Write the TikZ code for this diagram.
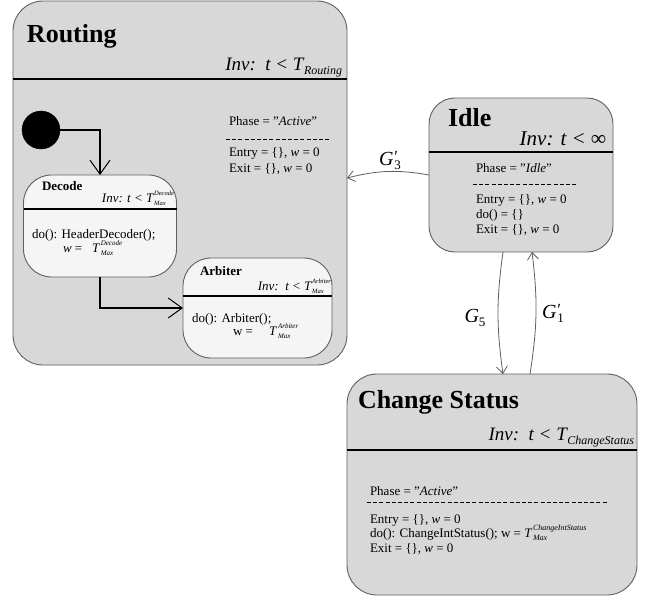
\documentclass[tikz,border=0pt]{standalone}
\usepackage{fontspec}
\setmainfont{Liberation Serif}
\usetikzlibrary{arrows.meta}
\definecolor{boxgray}{RGB}{216,216,216}
\definecolor{subfill}{RGB}{245,245,245}
\definecolor{edgegray}{RGB}{95,95,95}
\newcommand{\fs}[1]{\fontsize{#1}{#1}\selectfont}
\newlength{\stkw}
% #1 size, #2 sup, #3 sub, #4 raise of sup, #5 drop of sub
\newcommand{\stk}[5]{\begingroup\fs{#1}\itshape
 \setbox0=\hbox{\raisebox{#4}{#2}}\setbox2=\hbox{\raisebox{-#5}{#3}}%
 \setlength{\stkw}{\wd0}\ifdim\wd2>\stkw\setlength{\stkw}{\wd2}\fi
 \rlap{\box0}\rlap{\box2}\hspace*{\stkw}\endgroup}
\newcommand{\gp}[1]{G\kern1pt\stk{13}{\fs{17}\upshape ′}{\upshape #1}{3pt}{4pt}}
\tikzset{
 statebox/.style={draw=edgegray, fill=boxgray, line width=0.9pt, rounded corners=30pt, inner sep=0pt, outer sep=0pt},
 subbox/.style={draw=edgegray, fill=subfill, line width=0.9pt, rounded corners=28pt, inner sep=0pt, outer sep=0pt},
 hdr/.style={black, line width=1.5pt},
 txt/.style={inner sep=0pt, outer sep=0pt, font=\fs{13}},
 title/.style={inner sep=0pt, outer sep=0pt, font=\fs{26}\bfseries},
 subtitle/.style={inner sep=0pt, outer sep=0pt, font=\fs{13}\bfseries},
 inv/.style={inner sep=0pt, outer sep=0pt, font=\fs{19}\itshape},
 sinv/.style={inner sep=0pt, outer sep=0pt, font=\fs{13}\itshape},
 sep/.style={black, line width=0.7pt, dash pattern=on 4pt off 2.2pt},
 flow/.style={black, line width=1.4pt, -{Straight Barb[length=14pt,width=20pt,line width=1pt]}},
 trans/.style={edgegray, line width=0.8pt, -{Straight Barb[length=7pt,width=11pt,line width=0.8pt]}},
 glab/.style={inner sep=0pt, outer sep=0pt, font=\fs{20}\itshape},
}
\begin{document}
\begin{tikzpicture}[x=1pt,y=-1pt]
\useasboundingbox (0,0) rectangle (656,597);
% ---------- Routing ----------
\node[statebox, minimum width=334pt, minimum height=364pt] (routing) at (180,183) {};
\draw[hdr] (routing.west |- 0,79) -- (routing.east |- 0,79);
\node[title, anchor=base west] (rTitle) at (27,42) {Routing};
\node[inv, anchor=base east] (rInv) at (342,70) {Inv:\ \ t < T\kern0.5pt\stk{12}{}{Routing}{0pt}{4pt}};
\node[txt, anchor=base west] (rPhase) at (229,125) {Phase = ”\textit{Active}”};
\draw[sep] (226,139) -- (331,139);
\node[txt, anchor=base west] (rEntry) at (229,156) {Entry = \{\}, \textit{w} = 0};
\node[txt, anchor=base west] (rExit) at (229,172) {Exit = \{\}, \textit{w} = 0};
% initial state
\node[circle, fill=black, draw=black, minimum size=38pt, inner sep=0pt, outer sep=0pt] (init) at (41,130) {};
% ---------- Decode ----------
\node[subbox, minimum width=153pt, minimum height=102pt] (decode) at (100,226) {};
\draw[hdr, line width=1.2pt] (decode.west |- 0,209) -- (decode.east |- 0,209);
\node[subtitle, anchor=base west] (dTitle) at (42,190) {Decode};
\node[sinv, anchor=base east] (dInv) at (174,202) {Inv: t < T\kern0.8pt\stk{6.5}{Decode}{Max}{6.5pt}{3pt}};
\node[txt, anchor=base west] (dDo) at (32,238) {do(): HeaderDecoder();};
\node[txt, anchor=base west] (dW) at (63,252) {\textit{w} = \ \ \textit{T}\kern0.8pt\stk{7}{Decode}{Max}{6.5pt}{3pt}};
% ---------- Arbiter ----------
\node[subbox, minimum width=149pt, minimum height=100pt] (arbiter) at (257.5,308) {};
\draw[hdr, line width=1.2pt] (arbiter.west |- 0,296) -- (arbiter.east |- 0,296);
\node[subtitle, anchor=base west] (aTitle) at (200,275) {Arbiter};
\node[sinv, anchor=base east] (aInv) at (331,290) {Inv:\ \ t < T\kern0.8pt\stk{6.5}{Arbiter}{Max}{6.5pt}{3pt}};
\node[txt, anchor=base west] (aDo) at (192,322) {do(): Arbiter();};
\node[txt, anchor=base west] (aW) at (233,335) {w = \ \ \ \ \textit{T}\kern0.8pt\stk{7}{Arbiter}{Max}{6.5pt}{3pt}};
% flow inside Routing
\draw[flow] (init.east) -| (decode.north);
\draw[flow] (decode.south) |- (arbiter.west);
% ---------- Idle ----------
\node[statebox, rounded corners=26pt, minimum width=184pt, minimum height=154pt] (idle) at (521,175) {};
\draw[hdr] (idle.west |- 0,152) -- (idle.east |- 0,152);
\node[title, anchor=base west] (iTitle) at (448,126) {Idle};
\node[inv, font=\fs{21}\itshape, anchor=base east] (iInv) at (606,145) {Inv: t < ∞};
\node[txt, anchor=base west] (iPhase) at (476,172) {Phase = "\textit{Idle}"};
\draw[sep] (473,184) -- (577,184);
\node[txt, anchor=base west] (iEntry) at (476,203) {Entry = \{\}, \textit{w} = 0};
\node[txt, anchor=base west] (iDo) at (476,218) {do() = \{\}};
\node[txt, anchor=base west] (iExit) at (476,233) {Exit = \{\}, \textit{w} = 0};
% ---------- Change Status ----------
\node[statebox, minimum width=290pt, minimum height=221pt] (change) at (492,484.5) {};
\draw[hdr] (change.west |- 0,450) -- (change.east |- 0,450);
\node[title, anchor=base west] (cTitle) at (358,408) {Change Status};
\node[inv, anchor=base east] (cInv) at (634,440) {Inv:\ \ t < T\kern0.5pt\stk{12}{}{ChangeStatus}{0pt}{4pt}};
\node[txt, anchor=base west] (cPhase) at (370,495) {Phase = ”\textit{Active}”};
\draw[sep] (367,502) -- (607,502);
\node[txt, anchor=base west] (cEntry) at (370,523) {Entry = \{\}, \textit{w} = 0};
\node[txt, anchor=base west] (cDo) at (370,537) {do(): ChangeIntStatus(); w = \textit{T}\kern0.8pt\stk{8}{ChangeIntStatus}{Max}{6.5pt}{3pt}};
\node[txt, anchor=base west] (cExit) at (370,552) {Exit = \{\}, \textit{w} = 0};
% ---------- transitions ----------
\draw[trans] (idle.west) to[bend right=12] ([yshift=5pt]routing.east);
\draw[trans] ([xshift=-18pt]idle.south) to[bend right=8] ([xshift=11pt]change.north);
\draw[trans] ([xshift=38pt]change.north) to[bend right=8] ([xshift=11pt]idle.south);
\node[glab] (g3) at (390,160) {\gp{3}};
\node[glab] (g5) at (475,318) {G\stk{13}{}{\upshape 5}{0pt}{4pt}};
\node[glab] (g1) at (553,313) {\gp{1}};
\end{tikzpicture}
\end{document}
